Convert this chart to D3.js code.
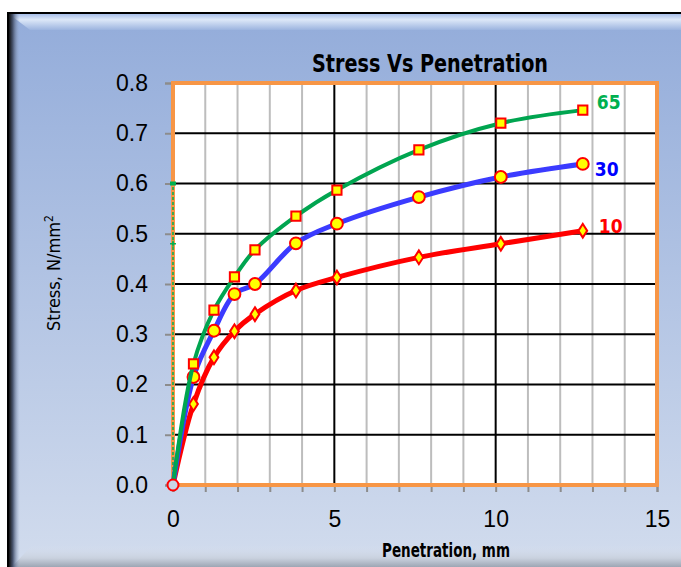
<!DOCTYPE html>
<html lang="en">
<head>
    <meta charset="UTF-8">
    <title>Stress Vs Penetration</title>
    <script src="https://d3js.org/d3.v7.min.js"></script>
    <style>
        body { margin: 0; background: #fff; }
        text { font-family: "DejaVu Sans Condensed", "Liberation Sans", sans-serif; }
    </style>
</head>
<body>
    <svg id="chart" width="681" height="567"></svg>

    <script>
        // Data (penetration in mm, stress in N/mm2)
        const penetration = [0, 0.635, 1.27, 1.905, 2.54, 3.81, 5.08, 7.62, 10.16, 12.7];
        const stress10 = [0, 0.161, 0.254, 0.306, 0.34, 0.387, 0.413, 0.453, 0.48, 0.506];
        const stress30 = [0, 0.215, 0.307, 0.38, 0.40, 0.481, 0.52, 0.573, 0.613, 0.639];
        const stress65 = [0, 0.241, 0.348, 0.414, 0.468, 0.535, 0.587, 0.667, 0.72, 0.746];
        const seriesNames = ["10", "30", "65"];
        const xTicks = [0, 5, 10, 15];
        const yTicks = [0, 0.1, 0.2, 0.3, 0.4, 0.5, 0.6, 0.7, 0.8];

        const svg = d3.select("#chart");

        // ---- frame with blue gradient and bevel ----
        const defs = svg.append("defs");
        const bg = defs.append("linearGradient").attr("id", "bg")
            .attr("x1", 0).attr("y1", 0).attr("x2", 0).attr("y2", 1);
        bg.append("stop").attr("offset", "0%").attr("stop-color", "#93acda");
        bg.append("stop").attr("offset", "100%").attr("stop-color", "#d7e0ef");

        const topBevel = defs.append("linearGradient").attr("id", "topBevel")
            .attr("x1", 0).attr("y1", 0).attr("x2", 0).attr("y2", 1);
        topBevel.append("stop").attr("offset", "0%").attr("stop-color", "#a9c0ea");
        topBevel.append("stop").attr("offset", "35%").attr("stop-color", "#dde8f8");
        topBevel.append("stop").attr("offset", "100%").attr("stop-color", "#9cb4df");

        const leftBevel = defs.append("linearGradient").attr("id", "leftBevel")
            .attr("x1", 0).attr("y1", 0).attr("x2", 1).attr("y2", 0);
        leftBevel.append("stop").attr("offset", "0%").attr("stop-color", "#111");
        leftBevel.append("stop").attr("offset", "35%").attr("stop-color", "#4a5670");
        leftBevel.append("stop").attr("offset", "100%").attr("stop-color", "#9fb2d6").attr("stop-opacity", 0);

        const bottomBevel = defs.append("linearGradient").attr("id", "bottomBevel")
            .attr("x1", 0).attr("y1", 0).attr("x2", 0).attr("y2", 1);
        bottomBevel.append("stop").attr("offset", "0%").attr("stop-color", "#d9e1ef").attr("stop-opacity", 0);
        bottomBevel.append("stop").attr("offset", "60%").attr("stop-color", "#c9d1de");
        bottomBevel.append("stop").attr("offset", "100%").attr("stop-color", "#9da6b4");

        svg.append("rect").attr("x", 8).attr("y", 13).attr("width", 700).attr("height", 600)
            .attr("fill", "url(#bg)").attr("stroke", "#000").attr("stroke-width", 2);
        svg.append("path").attr("d", "M9,14 L700,14 L700,30 L30,30 Z").attr("fill", "url(#topBevel)");
        svg.append("path").attr("d", "M12,567 L32,545 L700,545 L700,567 Z").attr("fill", "url(#bottomBevel)");
        svg.append("rect").attr("x", 9).attr("y", 14).attr("width", 11).attr("height", 560)
            .attr("fill", "url(#leftBevel)");

        // ---- scales ----
        const x = d3.scaleLinear().domain([0, 15]).range([173, 657]);
        const y = d3.scaleLinear().domain([0, 0.8]).range([485, 83]);

        // plot area
        svg.append("rect").attr("x", x(0)).attr("y", y(0.8))
            .attr("width", x(15) - x(0)).attr("height", y(0) - y(0.8))
            .attr("fill", "#fff");

        // vertical grid (minor every 1, black at 5 and 10)
        const xMinor = d3.range(1, 15);
        svg.append("g").selectAll("line").data(xMinor).enter().append("line")
            .attr("x1", d => x(d)).attr("x2", d => x(d))
            .attr("y1", y(0)).attr("y2", y(0.8))
            .attr("stroke", d => d % 5 === 0 ? "#000" : "#bdbdbd")
            .attr("stroke-width", 2);

        // horizontal grid
        svg.append("g").selectAll("line").data(yTicks.slice(1, -1)).enter().append("line")
            .attr("x1", x(0)).attr("x2", x(15))
            .attr("y1", d => y(d)).attr("y2", d => y(d))
            .attr("stroke", "#000").attr("stroke-width", 2);

        // axes
        const yAxis = d3.axisLeft(y).tickValues(yTicks).tickFormat(d3.format(".1f"))
            .tickSize(8).tickPadding(17);
        const gy = svg.append("g").attr("transform", `translate(${x(0)},0)`).call(yAxis);
        gy.select(".domain").attr("stroke", "#8c8c8c").attr("stroke-width", 2);
        gy.selectAll(".tick line").attr("stroke", "#8c8c8c").attr("stroke-width", 2);
        gy.selectAll(".tick text").attr("font-size", 23).attr("fill", "#000")
            .style("font-family", "'Liberation Sans', sans-serif");

        const xAxis = d3.axisBottom(x).ticks(15).tickSize(7)
            .tickFormat(d => xTicks.includes(d) ? d : "").tickPadding(19);
        const gx = svg.append("g").attr("transform", `translate(0,${y(0)})`).call(xAxis);
        gx.select(".domain").attr("stroke", "#8c8c8c").attr("stroke-width", 2);
        gx.selectAll(".tick line").attr("stroke", "#8c8c8c").attr("stroke-width", 2);
        gx.selectAll(".tick text").attr("font-size", 23).attr("fill", "#000")
            .style("font-family", "'Liberation Sans', sans-serif");

        // orange border of plot area
        svg.append("rect").attr("x", x(0)).attr("y", y(0.8))
            .attr("width", x(15) - x(0)).attr("height", y(0) - y(0.8))
            .attr("fill", "none").attr("stroke", "#f79646").attr("stroke-width", 4);

        // faint green dashed helper line along the y axis
        svg.append("line").attr("x1", x(0)).attr("x2", x(0))
            .attr("y1", y(0)).attr("y2", y(0.6))
            .attr("stroke", "#00b050").attr("stroke-width", 1.5).attr("stroke-dasharray", "3,2");
        svg.append("rect").attr("x", x(0) - 3).attr("y", y(0.6) - 2).attr("width", 6).attr("height", 4)
            .attr("fill", "#00b050");
        svg.append("path").attr("d", `M${x(0) - 3},${y(0.48)}h6M${x(0)},${y(0.48) - 3}v6`)
            .attr("stroke", "#00b050").attr("stroke-width", 1.5);

        // ---- series ----
        const series = [
            { name: seriesNames[0], values: stress10, line: "#ff0000", label: "#ff0000", width: 5, marker: d3.symbolDiamond, size: 60, dx: 16, dy: -4 },
            { name: seriesNames[1], values: stress30, line: "#3b3bff", label: "#0000ff", width: 5, marker: d3.symbolCircle, size: 110, dx: 12, dy: 5 },
            { name: seriesNames[2], values: stress65, line: "#00a550", label: "#00b050", width: 4, marker: d3.symbolSquare, size: 85, dx: 14, dy: -8 }
        ];

        const line = d3.line()
            .x(d => x(d[0])).y(d => y(d[1]))
            .curve(d3.curveCatmullRom.alpha(0.5));

        series.forEach(s => {
            const pts = penetration.map((p, i) => [p, s.values[i]]);
            svg.append("path").datum(pts)
                .attr("d", line)
                .attr("fill", "none")
                .attr("stroke", s.line)
                .attr("stroke-width", s.width)
                .attr("stroke-linejoin", "round");

            svg.append("g").selectAll("path").data(pts.slice(1)).enter().append("path")
                .attr("d", d3.symbol().type(s.marker).size(s.size))
                .attr("transform", d => `translate(${x(d[0])},${y(d[1])})` + (s.marker === d3.symbolDiamond ? " scale(1.05,0.95)" : ""))
                .attr("fill", "#ffff00")
                .attr("stroke", "#ff0000")
                .attr("stroke-width", 2);

            const last = pts[pts.length - 1];
            svg.append("text")
                .attr("x", x(last[0]) + s.dx)
                .attr("y", y(last[1]) + s.dy)
                .attr("dy", "0.35em")
                .attr("font-size", 19)
                .attr("font-weight", "bold")
                .attr("fill", s.label)
                .text(s.name);
        });

        // marker at the origin
        svg.append("circle").attr("cx", x(0)).attr("cy", y(0)).attr("r", 5.5)
            .attr("fill", "#c9d3e4").attr("stroke", "#ff0000").attr("stroke-width", 2);

        // ---- titles ----
        svg.append("text")
            .attr("x", 430).attr("y", 72)
            .attr("text-anchor", "middle")
            .attr("font-size", 25).attr("font-weight", "bold")
            .attr("textLength", 236).attr("lengthAdjust", "spacingAndGlyphs")
            .text("Stress Vs Penetration");

        svg.append("text")
            .attr("x", 446).attr("y", 557)
            .attr("text-anchor", "middle")
            .attr("font-size", 19).attr("font-weight", "bold")
            .attr("textLength", 128).attr("lengthAdjust", "spacingAndGlyphs")
            .text("Penetration, mm");

        const yt = svg.append("text")
            .attr("transform", "translate(60,273) rotate(-90)")
            .attr("text-anchor", "middle")
            .attr("font-size", 18);
        yt.append("tspan").text("Stress, N/mm");
        yt.append("tspan").attr("font-size", 12).attr("dy", -7).text("2");
    </script>
</body>
</html>
